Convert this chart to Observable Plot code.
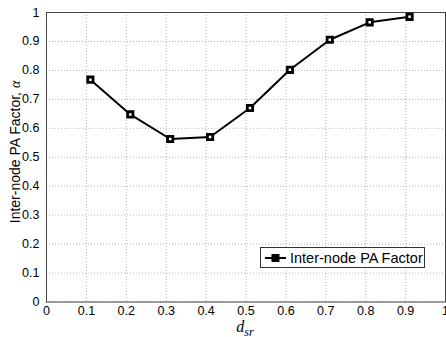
<!DOCTYPE html>
<html><head><meta charset="utf-8">
<script src="https://cdn.jsdelivr.net/npm/d3@7"></script>
<script src="https://cdn.jsdelivr.net/npm/@observablehq/plot@0.6"></script>
<style>
body{margin:0;background:#fff;}
#wrap{position:relative;width:446px;height:337px;overflow:hidden;font-family:Arial,"Liberation Sans",sans-serif;}
#legend{position:absolute;left:260px;top:247px;width:165px;height:21px;border:1px solid #333;background:#fff;box-sizing:border-box;display:flex;align-items:center;font-size:14.5px;color:#000;}
</style></head>
<body><div id="wrap"></div>
<script>
const dsr = [0.11, 0.21, 0.31, 0.41, 0.51, 0.61, 0.71, 0.81, 0.91];
const alpha = [0.768, 0.648, 0.563, 0.570, 0.670, 0.802, 0.906, 0.966, 0.985];
const xTicks = [0, 0.1, 0.2, 0.3, 0.4, 0.5, 0.6, 0.7, 0.8, 0.9, 1];
const yTicks = [0, 0.1, 0.2, 0.3, 0.4, 0.5, 0.6, 0.7, 0.8, 0.9, 1];
const seriesName = "Inter-node PA Factor";

const data = dsr.map((d, i) => ({x: d, y: alpha[i]}));

const chart = Plot.plot({
  width: 446, height: 337,
  marginLeft: 46, marginRight: 1, marginTop: 12, marginBottom: 35.5,
  style: {fontFamily: "Arial, 'Liberation Sans', sans-serif", fontSize: "12.5px", color: "#000", background: "#fff"},
  x: {domain: [0, 1], ticks: xTicks, label: null},
  y: {domain: [0, 1], ticks: yTicks, label: null},
  marks: [
    Plot.gridX(xTicks, {stroke: "#999", strokeOpacity: 0.9, strokeDasharray: "1,2", strokeWidth: 0.8}),
    Plot.gridY(yTicks, {stroke: "#999", strokeOpacity: 0.9, strokeDasharray: "1,2", strokeWidth: 0.8}),
    Plot.frame({stroke: "#444", strokeWidth: 1}),
    Plot.axisX(xTicks, {tickSize: 0, tickPadding: 4, tickFormat: d => String(d)}),
    Plot.axisY(yTicks, {tickSize: 0, tickPadding: 7, tickFormat: d => String(d)}),
    Plot.line(data, {x: "x", y: "y", stroke: "#000", strokeWidth: 2}),
    Plot.dot(data, {x: "x", y: "y", symbol: "square", r: 3, fill: "#fff", stroke: "#000", strokeWidth: 2.8})
  ]
});
document.getElementById("wrap").appendChild(chart);

const svg = d3.select(chart);
// x label d_sr
const xl = svg.append("text").attr("x", 245).attr("y", 331.5).attr("text-anchor", "middle")
  .attr("font-family", "'Liberation Serif','DejaVu Serif',serif").attr("font-style", "italic").attr("font-size", 16);
xl.append("tspan").text("d");
xl.append("tspan").attr("dy", 4).attr("font-size", 12).text("sr");
// y label
const yl = svg.append("text").attr("transform", "translate(20,152) rotate(-90)").attr("text-anchor", "middle")
  .attr("font-family", "Arial,'Liberation Sans',sans-serif").attr("font-size", 14);
yl.append("tspan").text("Inter-node PA Factor, ");
yl.append("tspan").attr("font-family", "'Liberation Serif','DejaVu Serif',serif").attr("font-style", "italic").text("α");

// legend
const lg = document.createElement("div");
lg.id = "legend";
lg.innerHTML = `<svg width="24" height="12" style="margin-left:3px;margin-right:2px"><line x1="1" y1="6" x2="22" y2="6" stroke="#000" stroke-width="2"/><rect x="8" y="2.5" width="7" height="7" fill="#000" stroke="#000" stroke-width="1"/></svg><span>${seriesName}</span>`;
document.getElementById("wrap").appendChild(lg);
</script>
</body></html>
